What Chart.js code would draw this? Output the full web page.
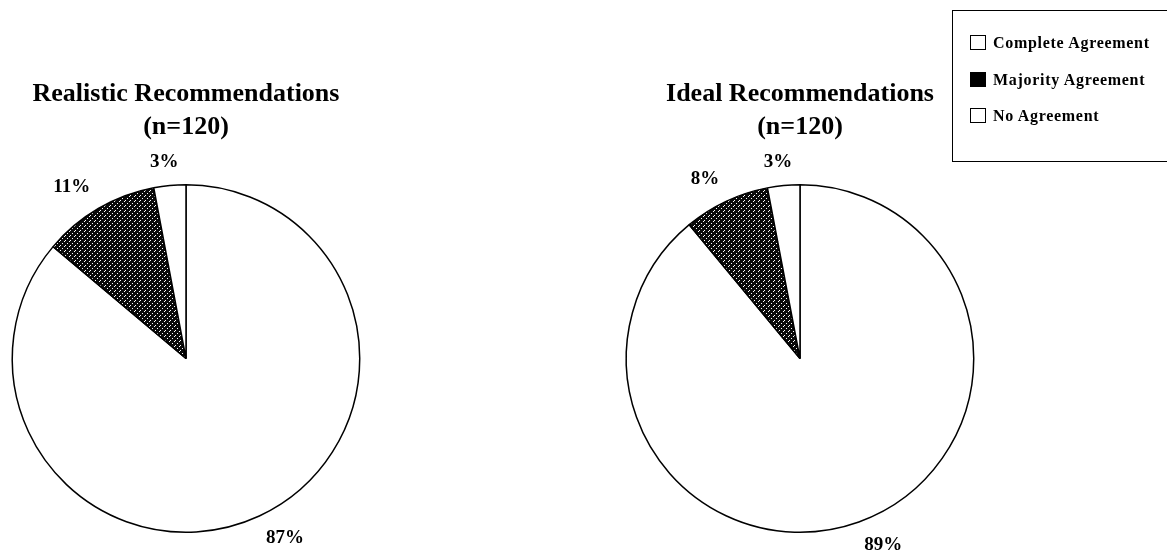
<!DOCTYPE html>
<html>
<head>
<meta charset="utf-8">
<script src="https://cdn.jsdelivr.net/npm/chart.js@4"></script>
<style>
body{margin:0;background:#fff;width:1167px;height:553px;overflow:hidden;position:relative;font-family:"Liberation Serif",serif;}
.pie{position:absolute;top:0;width:372px;height:553px;}
#legend{position:absolute;left:952px;top:10px;width:230px;height:152px;border:1.5px solid #000;box-sizing:border-box;}
.item{position:absolute;left:17px;font-weight:bold;font-size:16px;letter-spacing:0.7px;line-height:18px;white-space:nowrap;}
.sw{display:inline-block;width:16px;height:15px;border:1.3px solid #000;box-sizing:border-box;vertical-align:-2px;margin-right:7px;}
</style>
</head>
<body>
<div class="pie" style="left:0"><canvas id="c1"></canvas></div>
<div class="pie" style="left:614px"><canvas id="c2"></canvas></div>
<div id="legend">
<div class="item" style="top:23px"><span class="sw"></span>Complete Agreement</div>
<div class="item" style="top:60px"><span class="sw" style="background:#000"></span>Majority Agreement</div>
<div class="item" style="top:96px"><span class="sw"></span>No Agreement</div>
</div>
<script>
const categories = ["Complete Agreement", "Majority Agreement", "No Agreement"];
const realisticValues = [87, 11, 3];
const idealValues = [89, 8, 3];
const realisticTitle = ["Realistic Recommendations", "(n=120)"];
const idealTitle = ["Ideal Recommendations", "(n=120)"];

// stipple fill for the majority slice
function stipple(){
let t = document.createElement("canvas");
t.width = 5; t.height = 5;
let g = t.getContext("2d");
g.fillStyle = "#0a0a0a";
g.fillRect(0,0,5,5);
g.fillStyle = "#fff";
g.fillRect(0,0,1,1);
g.fillRect(2,3,1,1);
g.fillRect(4,1,1,1);
return g.createPattern(t, "repeat");
}

const pctLabels = {
id:"pctLabels",
afterDatasetsDraw(chart){
let ctx = chart.ctx;
let vals = chart.data.datasets[0].data;
ctx.save();
ctx.font = "bold 19px 'Liberation Serif'";
ctx.fillStyle = "#000";
ctx.textAlign = "center";
ctx.textBaseline = "middle";
chart.getDatasetMeta(0).data.forEach(function(arc, i){
let p = arc.getProps(["x","y","startAngle","endAngle","outerRadius"], true);
let mid = (p.startAngle + p.endAngle) / 2;
let dx = Math.cos(mid), dy = Math.sin(mid);
let txt = vals[i] + "%";
let w = ctx.measureText(txt).width;
let x = p.x + dx * (p.outerRadius + 16) + Math.sign(dx) * w / 2 * Math.min(1, Math.abs(dx) * 3);
let y = p.y + dy * (p.outerRadius + 16) + Math.sign(dy) * 8;
ctx.fillText(txt, x, y);
});
ctx.restore();
}
};

function makePie(id, values, title){
let ctx = document.getElementById(id).getContext("2d");
return new Chart(ctx, {
type:"pie",
data:{
labels:categories,
datasets:[{
data:values,
backgroundColor:["#fff", stipple(), "#fff"],
borderColor:"#000",
borderWidth:1.5
}]
},
options:{
responsive:true,
maintainAspectRatio:false,
animation:false,
layout:{padding:{top:0,bottom:20,left:0,right:0}},
plugins:{
legend:{display:false},
tooltip:{enabled:false},
title:{
display:true,
text:title,
color:"#000",
font:{family:"'Liberation Serif'",size:26,weight:"bold",lineHeight:1.27},
padding:{top:78,bottom:40}
}
}
},
plugins:[pctLabels]
});
}

makePie("c1", realisticValues, realisticTitle);
makePie("c2", idealValues, idealTitle);
</script>
</body>
</html>
